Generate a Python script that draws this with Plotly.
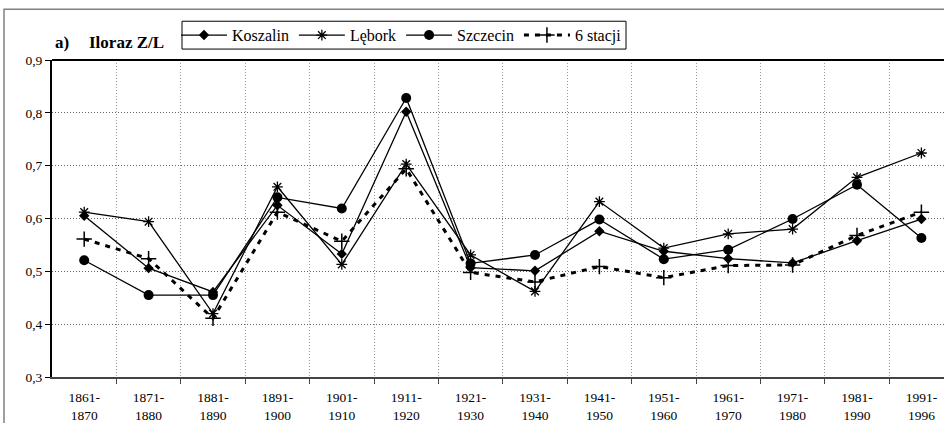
import plotly.graph_objects as go

periods = ["1861-<br>1870", "1871-<br>1880", "1881-<br>1890", "1891-<br>1900", "1901-<br>1910",
           "1911-<br>1920", "1921-<br>1930", "1931-<br>1940", "1941-<br>1950", "1951-<br>1960",
           "1961-<br>1970", "1971-<br>1980", "1981-<br>1990", "1991-<br>1996"]
koszalin = [0.605, 0.506, 0.461, 0.625, 0.533, 0.802, 0.507, 0.501, 0.576, 0.538, 0.524, 0.516, 0.558, 0.599]
lebork = [0.612, 0.594, 0.420, 0.660, 0.513, 0.703, 0.531, 0.462, 0.632, 0.544, 0.571, 0.580, 0.678, 0.724]
szczecin = [0.521, 0.455, 0.455, 0.640, 0.619, 0.828, 0.515, 0.531, 0.598, 0.523, 0.541, 0.599, 0.664, 0.563]
stacji6 = [0.561, 0.524, 0.411, 0.612, 0.557, 0.694, 0.498, 0.480, 0.509, 0.488, 0.511, 0.512, 0.568, 0.612]
y_ticks = [0.3, 0.4, 0.5, 0.6, 0.7, 0.8, 0.9]

xs = list(range(len(periods)))
FONT = "Liberation Serif"

fig = go.Figure()
fig.add_trace(go.Scatter(x=xs, y=koszalin, name="Koszalin", mode="lines+markers",
                         line=dict(color="black", width=1.3),
                         marker=dict(symbol="diamond", size=8, color="black")))
fig.add_trace(go.Scatter(x=xs, y=lebork, name="Lębork", mode="lines+markers",
                         line=dict(color="black", width=1.3),
                         marker=dict(symbol="asterisk-open", size=9, color="black",
                                     line=dict(color="black", width=1.3))))
fig.add_trace(go.Scatter(x=xs, y=szczecin, name="Szczecin", mode="lines+markers",
                         line=dict(color="black", width=1.3),
                         marker=dict(symbol="circle", size=10, color="black")))
fig.add_trace(go.Scatter(x=xs, y=stacji6, name="6 stacji", mode="lines+markers",
                         line=dict(color="black", width=3, dash="5px,6px"),
                         marker=dict(symbol="cross-thin-open", size=11, color="black",
                                     line=dict(color="black", width=1.5))))

W, H = 944, 423
L, T, B = 52, 60, 44
pw = W - L
ph = H - T - B


def px_x(x):
    return (x - L) / pw


def px_y(y):
    return 1 + (T - y) / ph


fig.update_layout(
    width=W, height=H,
    margin=dict(l=L, r=0, t=T, b=B),
    paper_bgcolor="white", plot_bgcolor="white",
    separators=",.",
    font=dict(family=FONT, color="black", size=13),
    showlegend=True,
    legend=dict(orientation="h", x=px_x(176), y=px_y(35),
                xanchor="left", yanchor="middle",
                borderwidth=0, bgcolor="rgba(0,0,0,0)",
                font=dict(family=FONT, size=16, color="black"),
                itemwidth=46, tracegroupgap=0),
    xaxis=dict(range=[-0.5, -0.5 + pw / 64.4], tickvals=xs, ticktext=periods,
               showgrid=False, zeroline=False,
               ticks="outside", ticklen=7, tickcolor="rgba(0,0,0,0)",
               showline=True, linecolor="#444", linewidth=2,
               tickfont=dict(family=FONT, size=13.5, color="black"),
               minor=dict(tickmode="array", tickvals=[i + 0.5 for i in xs],
                          ticks="outside", ticklen=5, tickcolor="#444", tickwidth=1,
                          showgrid=True, gridcolor="#999", griddash="1px,2px", gridwidth=1)),
    yaxis=dict(range=[0.3, 0.9], tickvals=y_ticks, tickformat=".1f",
               showgrid=True, gridcolor="#666", griddash="1px,2px", gridwidth=1,
               zeroline=False, ticks="outside", ticklen=5, tickcolor="black",
               showline=True, linecolor="black", linewidth=2,
               tickfont=dict(family=FONT, size=13.5, color="black")),
    shapes=[
        dict(type="line", xref="paper", yref="paper", x0=0, x1=1, y0=1, y1=1,
             line=dict(color="black", width=2)),
        dict(type="rect", xref="paper", yref="paper",
             x0=px_x(4), x1=1.2, y0=-0.3, y1=px_y(9),
             line=dict(color="#808080", width=1.5), layer="below"),
        dict(type="rect", xref="paper", yref="paper",
             x0=px_x(182), x1=px_x(626), y0=px_y(49), y1=px_y(21),
             line=dict(color="black", width=1), layer="above"),
    ],
    annotations=[
        dict(text="<b>a)</b>", xref="paper", yref="paper", x=px_x(53), y=px_y(42),
             xanchor="left", yanchor="middle", showarrow=False,
             font=dict(family=FONT, size=17, color="black")),
        dict(text="<b>Iloraz Z/L</b>", xref="paper", yref="paper", x=px_x(87), y=px_y(42),
             xanchor="left", yanchor="middle", showarrow=False,
             font=dict(family=FONT, size=17, color="black")),
    ],
)

fig.write_html("out.html")
